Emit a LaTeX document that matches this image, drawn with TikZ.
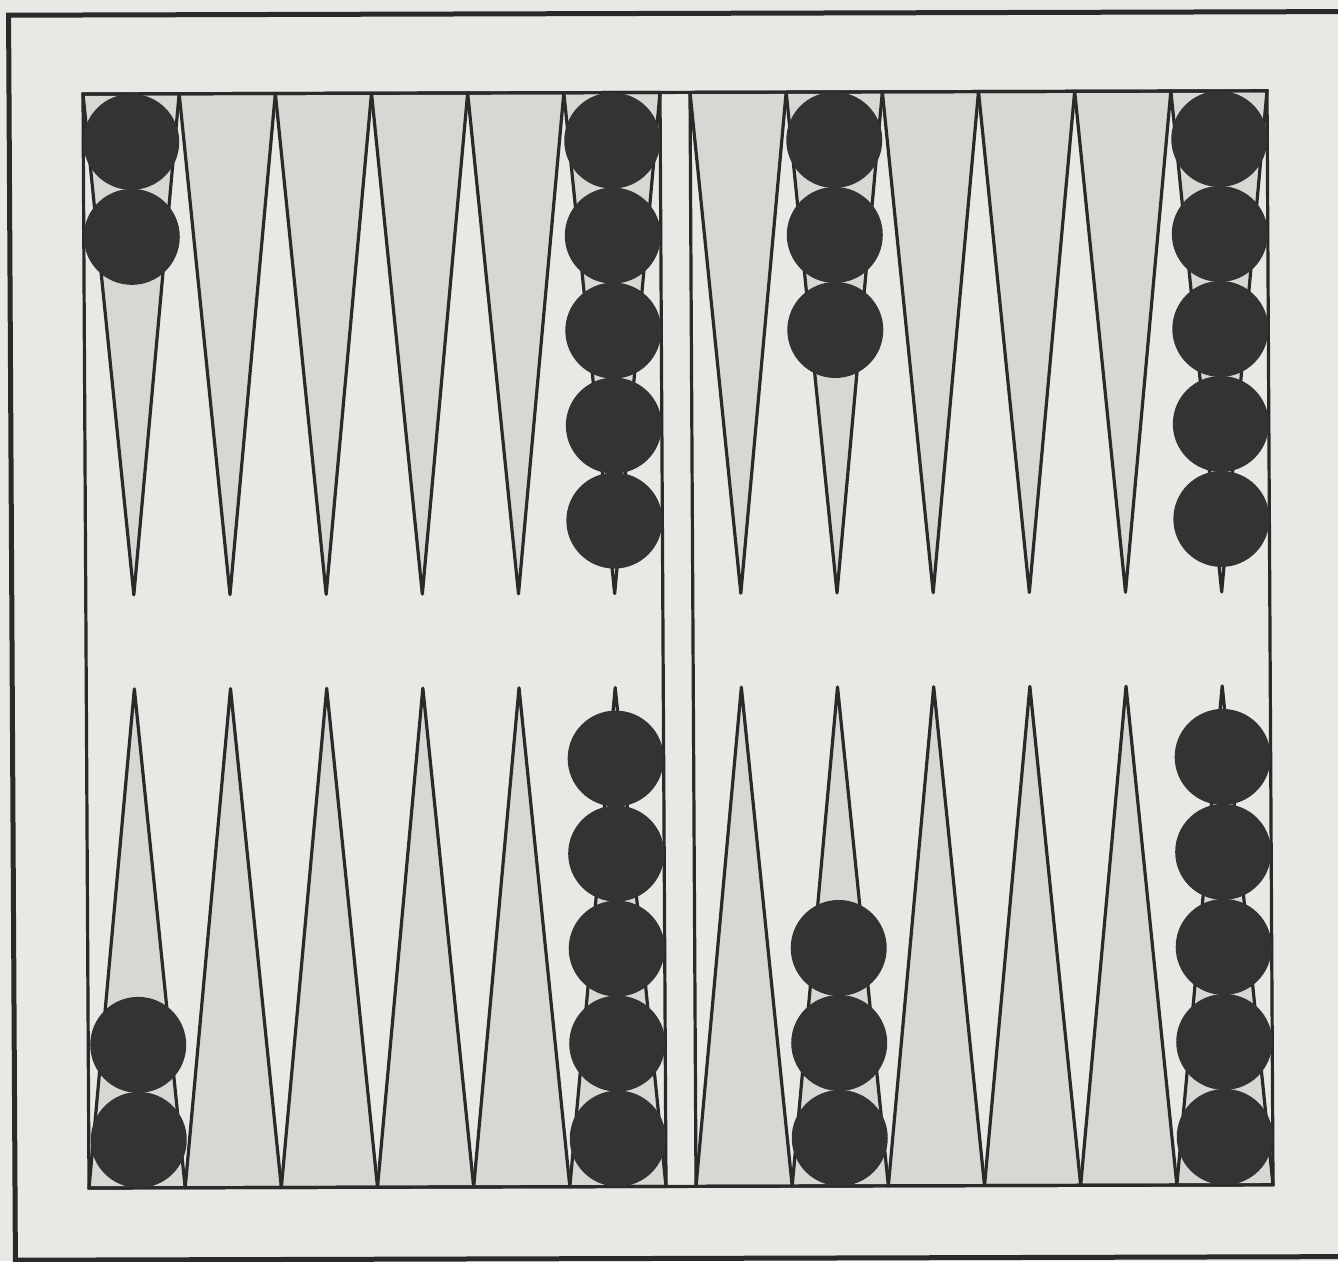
\documentclass[tikz,border=0pt]{standalone}
\definecolor{bgc}{HTML}{E8E9E5}
\definecolor{pointc}{HTML}{D7D8D4}
\definecolor{inkc}{HTML}{2A2A2A}
\definecolor{checkc}{HTML}{333333}
\tikzset{
  framestyle/.style={draw=inkc, line width=5pt},
  pointstyle/.style={fill=pointc, draw=inkc, line width=3.2pt, line join=round},
  boardstyle/.style={draw=inkc, line width=3.2pt},
  checker/.style={fill=checkc}
}
\begin{document}
\begin{tikzpicture}
\fill[bgc] (0pt,0pt) rectangle (1338pt,-1261pt);
\useasboundingbox (0pt,0pt) rectangle (1338pt,-1261pt);
\begin{scope}[shift={(83pt,-94pt)}, x={(1pt,0.0027pt)}, y={(0.0055pt,-1pt)}]
  % outer frame (right side lies beyond the picture's edge)
  \draw[framestyle] (1290,-79) -- (-74,-79) -- (-74,1166) -- (1290,1166);
  % points
  \pgfmathsetmacro{\w}{577/6}
  \foreach \o in {0,607} {
    \foreach \i in {0,...,5} {
      \filldraw[pointstyle] ({\o+\i*\w},0) -- ({\o+(\i+0.5)*\w},501) -- ({\o+(\i+1)*\w},0) -- cycle;
      \filldraw[pointstyle] ({\o+\i*\w},1094) -- ({\o+(\i+0.5)*\w},595) -- ({\o+(\i+1)*\w},1094) -- cycle;
    }
  }
  % board outline and bar
  \draw[boardstyle] (0,0) -- (1184,0) -- (1184,1094) -- (0,1094) -- cycle;
  \draw[boardstyle] (577,0) -- (577,1094);
  \draw[boardstyle] (607,0) -- (607,1094);
  % checkers, top row
  \foreach \k in {0,1} { \fill[checker] (48,{48+95*\k}) circle[radius=48pt]; }
  \foreach \k in {0,...,4} { \fill[checker] (529,{48+95*\k}) circle[radius=48pt]; }
  \foreach \k in {0,...,2} { \fill[checker] (751,{48+95*\k}) circle[radius=48pt]; }
  \foreach \k in {0,...,4} { \fill[checker] (1136,{48+95*\k}) circle[radius=48pt]; }
  % checkers, bottom row
  \foreach \k in {0,1} { \fill[checker] (50,{1046-95*\k}) circle[radius=48pt]; }
  \foreach \k in {0,...,4} { \fill[checker] (529,{1046-95*\k}) circle[radius=48pt]; }
  \foreach \k in {0,...,2} { \fill[checker] (751,{1046-95*\k}) circle[radius=48pt]; }
  \foreach \k in {0,...,4} { \fill[checker] (1136,{1046-95*\k}) circle[radius=48pt]; }
\end{scope}
\end{tikzpicture}
\end{document}
